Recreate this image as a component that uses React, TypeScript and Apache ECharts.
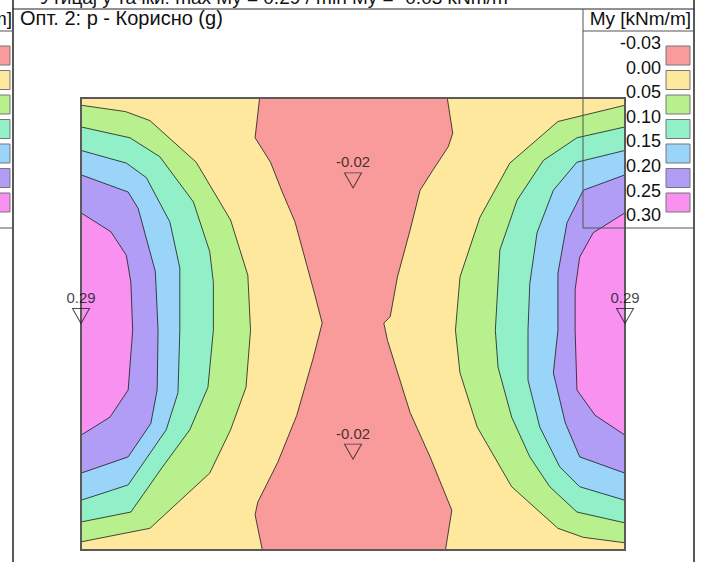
import React, { useEffect, useRef } from "react";
import * as echarts from "echarts";

// Plate extent in metres
const PLATE_X: [number, number] = [0, 6];
const PLATE_Y: [number, number] = [0, 5];

// Legend levels and band colours (My [kNm/m])
const LEGEND_LABELS = ["-0.03", "0.00", "0.05", "0.10", "0.15", "0.20", "0.25", "0.30"];
const BAND_COLORS = ["#f99b9b", "#fde89e", "#b9f08e", "#92f0c8", "#9ad4f8", "#b19cf6", "#f891ef"];

// Negative zone (My < 0) outline: left edge top->bottom, then right edge bottom->top
const RED_ZONE: [number, number][] = [
  [1.97, 5.0], [1.92, 4.56], [2.09, 4.29], [2.22, 3.96], [2.36, 3.63], [2.45, 3.30], [2.58, 2.82],
  [2.66, 2.51], [2.56, 2.12], [2.38, 1.49], [2.17, 0.97], [1.95, 0.53], [1.92, 0.39], [2.0, 0.0],
  [4.02, 0.0], [4.09, 0.44], [3.85, 1.03], [3.63, 1.52], [3.38, 2.32], [3.34, 2.51], [3.41, 2.58],
  [3.49, 3.02], [3.63, 3.54], [3.74, 3.98], [3.88, 4.20], [4.05, 4.46], [4.10, 4.61], [4.04, 5.0],
];

// Isolines on the left side (start and end on the left edge)
const LEFT_005: [number, number][] = [[0, 4.92], [0.49, 4.85], [0.76, 4.75], [1.27, 4.29], [1.65, 3.65], [1.84, 3.04], [1.87, 2.43], [1.82, 1.80], [1.65, 1.33], [1.42, 0.85], [0.76, 0.24], [0, 0.09]];
const LEFT_010: [number, number][] = [[0, 4.68], [0.54, 4.56], [0.87, 4.35], [1.24, 3.85], [1.42, 3.30], [1.46, 2.96], [1.46, 2.43], [1.40, 1.80], [1.20, 1.33], [0.90, 0.92], [0.55, 0.42], [0, 0.31]];
const LEFT_015: [number, number][] = [[0, 4.42], [0.50, 4.28], [0.72, 4.12], [0.98, 3.63], [1.09, 3.12], [1.09, 2.43], [1.07, 1.74], [0.94, 1.33], [0.52, 0.72], [0, 0.55]];
const LEFT_020: [number, number][] = [[0, 4.15], [0.52, 3.96], [0.63, 3.78], [0.82, 3.08], [0.85, 2.43], [0.84, 1.77], [0.77, 1.40], [0.52, 1.03], [0, 0.85]];
const LEFT_025: [number, number][] = [[0, 3.73], [0.33, 3.52], [0.50, 3.26], [0.55, 2.96], [0.57, 2.43], [0.52, 1.77], [0.32, 1.47], [0, 1.27]];

// Isolines on the right side (start and end on the right edge)
const RIGHT_005: [number, number][] = [[6, 4.92], [5.26, 4.74], [4.73, 4.28], [4.40, 3.68], [4.18, 3.02], [4.13, 2.43], [4.18, 1.96], [4.37, 1.36], [4.75, 0.70], [5.26, 0.24], [5.54, 0.14], [6, 0.08]];
const RIGHT_010: [number, number][] = [[6, 4.68], [5.47, 4.56], [5.10, 4.31], [4.81, 3.87], [4.62, 3.32], [4.57, 2.43], [4.60, 2.02], [4.75, 1.47], [4.95, 1.03], [5.17, 0.70], [5.47, 0.42], [6, 0.30]];
const RIGHT_015: [number, number][] = [[6, 4.42], [5.47, 4.29], [5.21, 3.98], [5.03, 3.51], [4.95, 2.95], [4.93, 2.43], [4.93, 1.88], [5.06, 1.36], [5.28, 0.92], [5.50, 0.70], [6, 0.55]];
const RIGHT_020: [number, number][] = [[6, 4.15], [5.54, 3.98], [5.36, 3.62], [5.26, 3.06], [5.26, 2.43], [5.21, 1.96], [5.34, 1.41], [5.50, 1.03], [6, 0.85]];
const RIGHT_025: [number, number][] = [[6, 3.73], [5.65, 3.51], [5.50, 3.24], [5.45, 2.88], [5.45, 2.43], [5.47, 1.77], [5.67, 1.49], [6, 1.27]];

// Extreme values
const EXTREME_X = [3, 3, 0, 6];
const EXTREME_Y = [4.0, 1.0, 2.5, 2.5];
const EXTREME_V = [-0.02, -0.02, 0.29, 0.29];

const TITLE = "Опт. 2: p - Корисно (g)";
const HEADER = "Утицај у тачки: max My = 0.29 / min My = -0.03 kNm/m";
const UNIT = "My [kNm/m]";

const FONT = "'Liberation Sans', Arial, sans-serif";

export default function App() {
  const ref = useRef<HTMLDivElement>(null);

  useEffect(() => {
    const chart = echarts.init(ref.current!, null, { renderer: "svg" });

    const plate: [number, number][] = [
      [PLATE_X[0], PLATE_Y[0]], [PLATE_X[1], PLATE_Y[0]], [PLATE_X[1], PLATE_Y[1]], [PLATE_X[0], PLATE_Y[1]],
    ];
    const lefts = [LEFT_005, LEFT_010, LEFT_015, LEFT_020, LEFT_025];
    const rights = [RIGHT_005, RIGHT_010, RIGHT_015, RIGHT_020, RIGHT_025];

    const polys: { pts: [number, number][]; fill: string; stroke: string; lw: number }[] = [];
    polys.push({ pts: plate, fill: BAND_COLORS[1], stroke: "none", lw: 0 });
    polys.push({ pts: RED_ZONE, fill: BAND_COLORS[0], stroke: "#1a1a1a", lw: 0.8 });
    lefts.forEach((c, i) => polys.push({ pts: c, fill: BAND_COLORS[i + 2], stroke: "#1a1a1a", lw: 0.8 }));
    rights.forEach((c, i) => polys.push({ pts: c, fill: BAND_COLORS[i + 2], stroke: "#1a1a1a", lw: 0.8 }));
    polys.push({ pts: plate, fill: "none", stroke: "#5a5a5a", lw: 2 });

    const legendTexts: any[] = [];
    const legendRects: any[] = [];
    LEGEND_LABELS.forEach((lab, i) => {
      legendTexts.push({
        type: "text",
        z: 0,
        style: { text: lab, x: 661, y: 43 + i * 24.6, align: "right", verticalAlign: "middle", font: `18px ${FONT}`, fill: "#111" },
      });
    });
    BAND_COLORS.forEach((c, i) => {
      legendRects.push({
        type: "rect",
        z: 10,
        shape: { x: 666, y: 46 + i * 24.5, width: 24, height: 19 },
        style: { fill: c, stroke: "#777", lineWidth: 1 },
      });
      legendRects.push({
        type: "rect",
        z: 10,
        shape: { x: -14, y: 46 + i * 24.5, width: 24, height: 19 },
        style: { fill: c, stroke: "#777", lineWidth: 1 },
      });
    });

    const line = (x1: number, y1: number, x2: number, y2: number, w = 1, c = "#222") => ({
      type: "line",
      z: 10,
      shape: { x1, y1, x2, y2 },
      style: { stroke: c, lineWidth: w },
    });

    const option: any = {
      animation: false,
      backgroundColor: "#ffffff",
      grid: { left: 81, top: 98, width: 544, height: 452, containLabel: false },
      xAxis: { type: "value", min: PLATE_X[0], max: PLATE_X[1], show: false },
      yAxis: { type: "value", min: PLATE_Y[0], max: PLATE_Y[1], show: false },
      graphic: [
        ...legendTexts,
        ...legendRects,
        { type: "text", z: 10, style: { text: TITLE, x: 20, y: 18, verticalAlign: "middle", font: `20px ${FONT}`, fill: "#111" } },
        { type: "text", z: 10, style: { text: HEADER, x: 40, y: -3, verticalAlign: "middle", font: `19px ${FONT}`, fill: "#111" } },
        { type: "text", z: 10, style: { text: UNIT, x: 691, y: 18, align: "right", verticalAlign: "middle", font: `19px ${FONT}`, fill: "#111" } },
        { type: "text", z: 10, style: { text: UNIT, x: 12, y: 18, align: "right", verticalAlign: "middle", font: `19px ${FONT}`, fill: "#111" } },
        line(13, 0, 13, 562, 1.5),
        line(694, 0, 694, 562, 1.5),
        line(13, 9, 694, 9, 1),
        line(583, 9, 583, 228, 1, "#555"),
        line(583, 31, 694, 31, 1, "#555"),
        line(583, 228, 694, 228, 1, "#555"),
        line(0, 31, 13, 31, 1, "#555"),
        line(0, 228, 13, 228, 1, "#555"),
      ],
      series: [
        {
          type: "custom",
          coordinateSystem: "cartesian2d",
          clip: false,
          silent: true,
          z: 2,
          data: polys.map((_, i) => [0, 0, i]),
          encode: { x: 0, y: 1 },
          renderItem: (params: any, api: any) => {
            const p = polys[params.dataIndex];
            return {
              type: "polygon",
              shape: { points: p.pts.map((pt) => api.coord(pt)) },
              style: { fill: p.fill, stroke: p.stroke, lineWidth: p.lw },
            };
          },
        },
        {
          type: "scatter",
          z: 5,
          silent: true,
          data: EXTREME_X.map((x, i) => [x, EXTREME_Y[i], EXTREME_V[i]]),
          symbol: "triangle",
          symbolRotate: 180,
          symbolSize: [17, 15],
          symbolOffset: [0, -8],
          itemStyle: { color: "rgba(0,0,0,0)", borderColor: "#222", borderWidth: 1 },
          label: {
            show: true,
            position: "top",
            distance: 3,
            formatter: (p: any) => p.value[2].toFixed(2),
            fontFamily: FONT,
            fontSize: 15,
            color: "#111",
          },
        },
      ],
    };

    chart.setOption(option);
    return () => chart.dispose();
  }, []);

  return (
    <div
      ref={ref}
      style={{ position: "absolute", left: 0, top: 0, width: 701, height: 562, background: "#fff" }}
    />
  );
}
